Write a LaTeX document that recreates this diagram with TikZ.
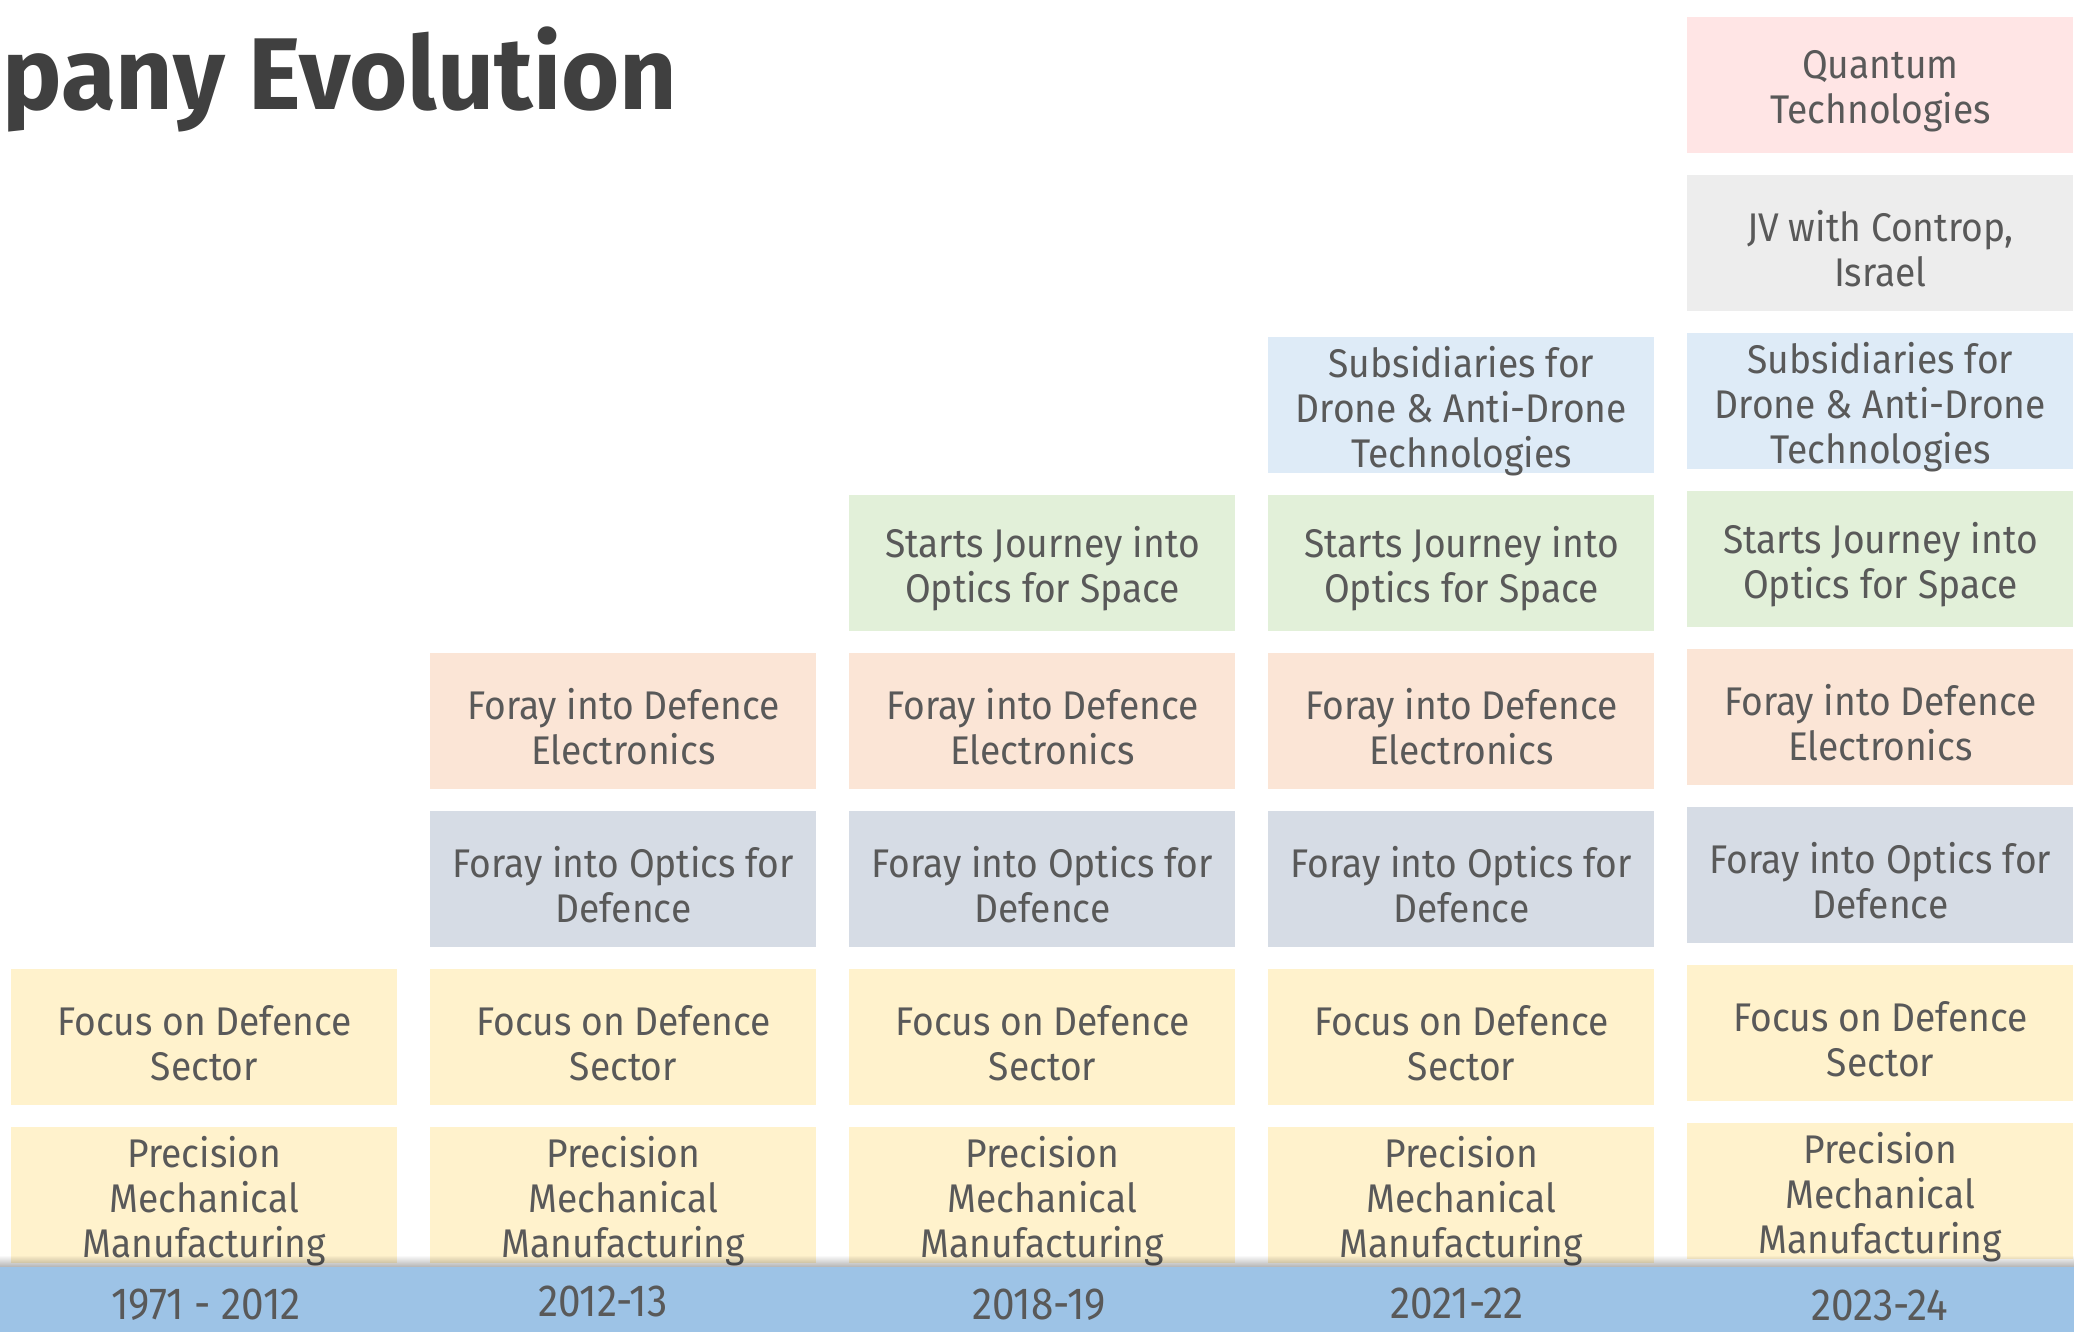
\documentclass[tikz,border=0pt]{standalone}
\usepackage{fontspec}
\setmainfont{Fira Sans}[FakeStretch=0.93]
\newfontfamily\titlefont{Fira Sans}[FakeStretch=0.98]
\newfontfamily\yearfont{Fira Sans}[FakeStretch=0.9]
\definecolor{txt}{HTML}{595959}
\definecolor{ttl}{HTML}{404040}
\definecolor{cYel}{HTML}{FFF2CC}
\definecolor{cOpt}{HTML}{D6DCE5}
\definecolor{cEle}{HTML}{FBE5D6}
\definecolor{cSpa}{HTML}{E2F0D9}
\definecolor{cSub}{HTML}{DEEBF7}
\definecolor{cJV}{HTML}{EDEDED}
\definecolor{cQua}{HTML}{FFE5E5}
\definecolor{cBar}{HTML}{9DC3E6}
\newcommand\tbox[4]{%
  \node[box, fill=#2] (#1) at (#3) {};
  \node[boxtxt] (#1t) at ([yshift=-2.8pt]#1.center) {#4};}
\begin{document}
\begin{tikzpicture}[x=0.5pt,y=-0.5pt,
  box/.style={minimum width=193pt, minimum height=68pt, inner sep=0pt, anchor=north west},
  boxtxt/.style={inner sep=0pt, align=center, text=txt, font=\fontsize{20}{22.5}\selectfont},
  yearlbl/.style={inner sep=0pt, text=txt, font=\yearfont\fontsize{22.5}{26}\selectfont},
]
\useasboundingbox (0,0) rectangle (2074,1332);
\fill[white] (0,0) rectangle (2074,1332);
\node[anchor=base west, inner sep=0pt, text=ttl, font=\titlefont\bfseries\fontsize{51}{55}\selectfont] (title) at (2,110) {pany Evolution};
% column 1
\tbox{c1r0}{cYel}{11,1127}{Precision\\Mechanical\\Manufacturing}
\tbox{c1r1}{cYel}{11,969}{Focus on Defence\\Sector}
% column 2
\tbox{c2r0}{cYel}{430,1127}{Precision\\Mechanical\\Manufacturing}
\tbox{c2r1}{cYel}{430,969}{Focus on Defence\\Sector}
\tbox{c2r2}{cOpt}{430,811}{Foray into Optics for\\Defence}
\tbox{c2r3}{cEle}{430,653}{Foray into Defence\\Electronics}
% column 3
\tbox{c3r0}{cYel}{849,1127}{Precision\\Mechanical\\Manufacturing}
\tbox{c3r1}{cYel}{849,969}{Focus on Defence\\Sector}
\tbox{c3r2}{cOpt}{849,811}{Foray into Optics for\\Defence}
\tbox{c3r3}{cEle}{849,653}{Foray into Defence\\Electronics}
\tbox{c3r4}{cSpa}{849,495}{Starts Journey into\\Optics for Space}
% column 4
\tbox{c4r0}{cYel}{1268,1127}{Precision\\Mechanical\\Manufacturing}
\tbox{c4r1}{cYel}{1268,969}{Focus on Defence\\Sector}
\tbox{c4r2}{cOpt}{1268,811}{Foray into Optics for\\Defence}
\tbox{c4r3}{cEle}{1268,653}{Foray into Defence\\Electronics}
\tbox{c4r4}{cSpa}{1268,495}{Starts Journey into\\Optics for Space}
\tbox{c4r5}{cSub}{1268,337}{Subsidiaries for\\Drone \& Anti-Drone\\Technologies}
% column 5
\tbox{c5r0}{cYel}{1687,1123}{Precision\\Mechanical\\Manufacturing}
\tbox{c5r1}{cYel}{1687,965}{Focus on Defence\\Sector}
\tbox{c5r2}{cOpt}{1687,807}{Foray into Optics for\\Defence}
\tbox{c5r3}{cEle}{1687,649}{Foray into Defence\\Electronics}
\tbox{c5r4}{cSpa}{1687,491}{Starts Journey into\\Optics for Space}
\tbox{c5r5}{cSub}{1687,333}{Subsidiaries for\\Drone \& Anti-Drone\\Technologies}
\tbox{c5r6}{cJV}{1687,175}{JV with Controp,\\Israel}
\tbox{c5r7}{cQua}{1687,17}{Quantum\\Technologies}
% shadow and bar
\foreach \i in {0,...,11} {
  \fill[black, opacity=0.025*\i] (0,1255+\i) rectangle (2074,1256+\i);
}
\fill[cBar] (0,1267) rectangle (2074,1332);
\node[yearlbl] (y1) at (206,1305) {1971 - 2012};
\node[yearlbl] (y2) at (603,1301) {2012-13};
\node[yearlbl] (y3) at (1039,1305) {2018-19};
\node[yearlbl] (y4) at (1457,1303) {2021-22};
\node[yearlbl] (y5) at (1880,1305) {2023-24};
\end{tikzpicture}
\end{document}
